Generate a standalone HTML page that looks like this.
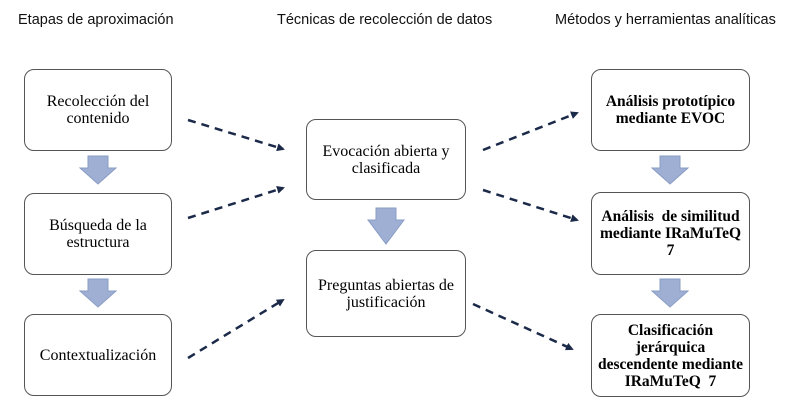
<!DOCTYPE html>
<html><head><meta charset="utf-8"><style>
body{margin:0;width:788px;height:413px;background:#fff;position:relative;overflow:hidden}
.h{position:absolute;top:12px;font-family:"Liberation Sans",sans-serif;font-size:14.5px;color:#111}
.b{position:absolute;box-sizing:border-box;border:1.5px solid #555;border-radius:10px;display:flex;align-items:center;justify-content:center;text-align:center;font-family:"Liberation Serif",serif;font-size:16px;line-height:17px;color:#000}
.r{font-weight:bold;font-size:15.5px}
svg{position:absolute;left:0;top:0}
</style></head><body>
<div class="h" style="left:18px">Etapas de aproximación</div>
<div class="h" style="left:277px">Técnicas de recolección de datos</div>
<div class="h" style="left:555px">Métodos y herramientas analíticas</div>
<div class="b" style="left:24px;top:69px;width:148px;height:82px">Recolección del<br>contenido</div>
<div class="b" style="left:24px;top:193px;width:148px;height:82px">Búsqueda de la<br>estructura</div>
<div class="b" style="left:24px;top:314px;width:148px;height:82px">Contextualización</div>
<div class="b" style="left:306px;top:119px;width:160px;height:81px">Evocación abierta y<br>clasificada</div>
<div class="b" style="left:306px;top:250px;width:160px;height:87px">Preguntas abiertas de<br>justificación</div>
<div class="b r" style="left:591px;top:69px;width:159px;height:82px">Análisis prototípico<br>mediante EVOC</div>
<div class="b r" style="left:591px;top:192px;width:159px;height:83px">Análisis &nbsp;de similitud<br>mediante IRaMuTeQ<br>7</div>
<div class="b r" style="left:591px;top:314px;width:159px;height:83px">Clasificación<br>jerárquica<br>descendente mediante<br>IRaMuTeQ &nbsp;7</div>
<svg width="788" height="413">
<defs><marker id="m" markerWidth="8" markerHeight="8" refX="6" refY="4" orient="auto" markerUnits="userSpaceOnUse"><path d="M0,0 L8,4 L0,8 Z" fill="#1c2a4a"/></marker></defs>
<g fill="#9fafd3" stroke="#8a9cc6" stroke-width="1">
<path d="M88,156 H108 V168 H116 L98,184 L80,168 H88 Z"/>
<path d="M88,279 H108 V291 H116 L98,307 L80,291 H88 Z"/>
<path d="M376,208 H396 V220 H404 L386,244 L368,220 H376 Z"/>
<path d="M660,156 H680 V168 H688 L670,184 L652,168 H660 Z"/>
<path d="M660,279 H680 V291 H688 L670,307 L652,291 H660 Z"/>
</g>
<g stroke="#1c2a4a" stroke-width="2.5" stroke-dasharray="8,6" fill="none" marker-end="url(#m)">
<line x1="188" y1="120" x2="283" y2="149"/>
<line x1="188" y1="218" x2="283" y2="188"/>
<line x1="188" y1="358" x2="283" y2="300"/>
<line x1="483" y1="150" x2="577" y2="113"/>
<line x1="483" y1="190" x2="577" y2="220"/>
<line x1="473" y1="304" x2="572" y2="349"/>
</g>
</svg>
</body></html>
